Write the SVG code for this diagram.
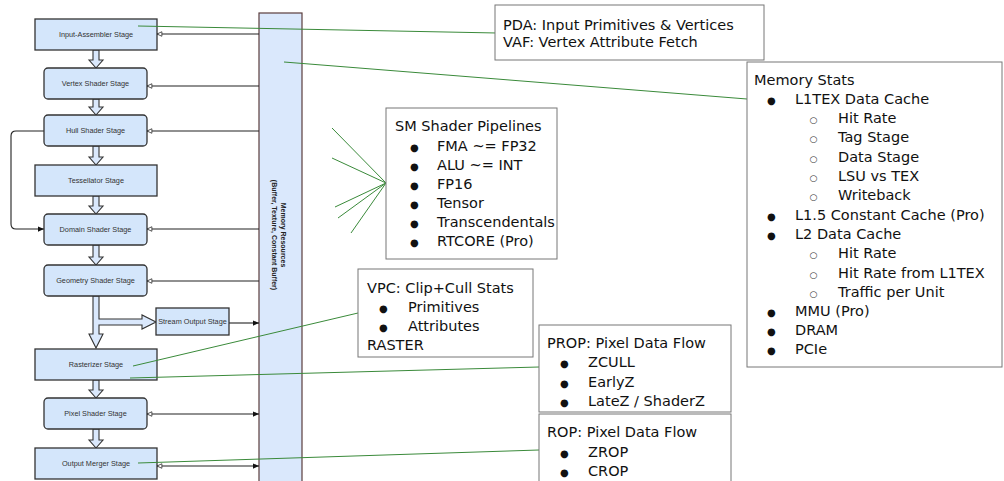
<svg xmlns="http://www.w3.org/2000/svg" width="1004" height="481" viewBox="0 0 1004 481">
  <style>
    .stage { fill: #d4e6fb; stroke: #333; stroke-width: 1.3; }
    .bar { fill: #dae8fc; stroke: #5a3d3d; stroke-width: 1.2; }
    .flow { fill: #dae8fc; stroke: #333; stroke-width: 1.1; stroke-linejoin: miter; }
    .lbl { font-family: "Liberation Sans", Arial, sans-serif; font-size: 7.3px; fill: #333; text-anchor: middle; }
    .memlbl { font-family: "Liberation Sans", Arial, sans-serif; font-size: 7px; font-weight: bold; fill: #222; text-anchor: middle; }
    .wire { fill: none; stroke: #222; stroke-width: 1.1; }
    .link { fill: none; stroke: #3a8a3a; stroke-width: 1; }
    .note { fill: #fff; stroke: #777; stroke-width: 1; }
    .txt { font-family: "DejaVu Sans", Verdana, sans-serif; font-size: 14.5px; fill: #111; }
    .dot { font-family: "DejaVu Sans", sans-serif; font-size: 10px; fill: #111; }
    .ring { font-family: "DejaVu Sans", sans-serif; font-size: 9px; fill: #333; }
  </style>
  <defs>
    <marker id="open" viewBox="0 0 8 8" refX="7.5" refY="4" markerWidth="7" markerHeight="6" markerUnits="userSpaceOnUse" orient="auto-start-reverse">
      <path d="M1,1 L7.5,4 L1,7 Z" fill="#fff" stroke="#222" stroke-width="1"/>
    </marker>
    <marker id="solid" viewBox="0 0 8 8" refX="8" refY="4" markerWidth="7" markerHeight="6" markerUnits="userSpaceOnUse" orient="auto">
      <path d="M0,0.5 L8,4 L0,7.5 Z" fill="#111"/>
    </marker>
  </defs>

  <rect width="1004" height="481" fill="#fff"/>

  <!-- shared memory resources column -->
  <g id="memory-resources">
    <rect class="bar" x="259" y="13" width="43" height="480"/>
    <text class="memlbl" transform="translate(281,235) rotate(90)">Memory Resources</text>
    <text class="memlbl" transform="translate(271.5,235) rotate(90)">(Buffer, Texture, Constant Buffer)</text>
  </g>

  <!-- connectors between stages and memory -->
  <g id="connectors">
    <path class="wire" d="M259,34 H157" marker-end="url(#open)"/>
    <path class="wire" d="M259,86 H147" marker-end="url(#open)"/>
    <path class="wire" d="M259,131 H147" marker-end="url(#open)"/>
    <path class="wire" d="M259,229 H147" marker-end="url(#open)"/>
    <path class="wire" d="M259,281 H147" marker-end="url(#open)"/>
    <path class="wire" d="M147,414 H259" marker-start="url(#open)" marker-end="url(#solid)"/>
    <path class="wire" d="M157,466 H259" marker-start="url(#open)" marker-end="url(#solid)"/>
    <path class="wire" d="M229,323 H259" marker-end="url(#solid)"/>
    <path class="wire" d="M44,131 H16 Q11,131 11,136 V224 Q11,229 16,229 H44" marker-end="url(#solid)"/>

    <!-- pipeline flow arrows -->
    <path class="flow" d="M93,50 H99 V60 H103 L96,68 L89,60 H93 Z"/>
    <path class="flow" d="M93,99 H99 V107 H103 L96,115 L89,107 H93 Z"/>
    <path class="flow" d="M93,146 H99 V157 H103 L96,165 L89,157 H93 Z"/>
    <path class="flow" d="M93,196 H99 V206 H103 L96,214 L89,206 H93 Z"/>
    <path class="flow" d="M93,245 H99 V257 H103 L96,265 L89,257 H93 Z"/>
    <path class="flow" d="M93,296 H99 V319 H142 V315 L156,322 L142,329 V325 H99 V334 H103 L96,348 L89,334 H93 Z"/>
    <path class="flow" d="M93,380 H99 V390 H103 L96,398 L89,390 H93 Z"/>
    <path class="flow" d="M93,429 H99 V440 H103 L96,448 L89,440 H93 Z"/>
  </g>

  <!-- pipeline stages -->
  <g id="input-assembler">
    <rect class="stage" x="35" y="19" width="122" height="31"/>
    <text class="lbl" x="96" y="37">Input-Assembler Stage</text>
  </g>
  <g id="vertex-shader">
    <rect class="stage" x="44" y="68" width="103" height="31" rx="4"/>
    <text class="lbl" x="95.5" y="86">Vertex Shader Stage</text>
  </g>
  <g id="hull-shader">
    <rect class="stage" x="44" y="115" width="103" height="31" rx="4"/>
    <text class="lbl" x="95.5" y="133">Hull Shader Stage</text>
  </g>
  <g id="tessellator">
    <rect class="stage" x="35" y="165" width="122" height="31"/>
    <text class="lbl" x="96" y="183">Tessellator Stage</text>
  </g>
  <g id="domain-shader">
    <rect class="stage" x="44" y="214" width="103" height="31" rx="4"/>
    <text class="lbl" x="95.5" y="232">Domain Shader Stage</text>
  </g>
  <g id="geometry-shader">
    <rect class="stage" x="44" y="265" width="103" height="31" rx="4"/>
    <text class="lbl" x="95.5" y="283">Geometry Shader Stage</text>
  </g>
  <g id="stream-output">
    <rect class="stage" x="156" y="308" width="73" height="27"/>
    <text class="lbl" x="192.5" y="324">Stream Output Stage</text>
  </g>
  <g id="rasterizer">
    <rect class="stage" x="35" y="349" width="122" height="31"/>
    <text class="lbl" x="96" y="367">Rasterizer Stage</text>
  </g>
  <g id="pixel-shader">
    <rect class="stage" x="44" y="398" width="103" height="31" rx="4"/>
    <text class="lbl" x="95.5" y="416">Pixel Shader Stage</text>
  </g>
  <g id="output-merger">
    <rect class="stage" x="35" y="448" width="122" height="31"/>
    <text class="lbl" x="96" y="466">Output Merger Stage</text>
  </g>

  <!-- callout leaders -->
  <g id="callout-links">
    <path class="link" d="M138,26 L497,33"/>
    <path class="link" d="M284,62 L747,99"/>
    <path class="link" d="M332,128 L386,183 M332,158 L386,183 M335,207 L386,183 M338,218 L386,183 M351,233 L386,183"/>
    <path class="link" d="M133,366 L358,313"/>
    <path class="link" d="M130,378 L539,367"/>
    <path class="link" d="M138,463 L539,450"/>
  </g>

  <!-- hardware unit callouts -->
  <g id="pda-vaf">
    <rect class="note" x="495" y="5" width="269" height="55"/>
    <text class="txt" x="503" y="29.5">PDA: Input Primitives &amp; Vertices</text>
    <text class="txt" x="503" y="46.5">VAF: Vertex Attribute Fetch</text>
  </g>

  <g id="memory-stats">
    <rect class="note" x="747" y="62" width="255" height="305"/>
    <text class="txt" x="754" y="85">Memory Stats</text>
    <text class="dot" x="767" y="104">●</text><text class="txt" x="795" y="104">L1TEX Data Cache</text>
    <text class="ring" x="809.5" y="123">○</text><text class="txt" x="838" y="123">Hit Rate</text>
    <text class="ring" x="809.5" y="142">○</text><text class="txt" x="838" y="142">Tag Stage</text>
    <text class="ring" x="809.5" y="162">○</text><text class="txt" x="838" y="162">Data Stage</text>
    <text class="ring" x="809.5" y="181">○</text><text class="txt" x="838" y="181">LSU vs TEX</text>
    <text class="ring" x="809.5" y="200">○</text><text class="txt" x="838" y="200">Writeback</text>
    <text class="dot" x="767" y="220">●</text><text class="txt" x="795" y="220">L1.5 Constant Cache (Pro)</text>
    <text class="dot" x="767" y="239">●</text><text class="txt" x="795" y="239">L2 Data Cache</text>
    <text class="ring" x="809.5" y="258">○</text><text class="txt" x="838" y="258">Hit Rate</text>
    <text class="ring" x="809.5" y="278">○</text><text class="txt" x="838" y="278">Hit Rate from L1TEX</text>
    <text class="ring" x="809.5" y="297">○</text><text class="txt" x="838" y="297">Traffic per Unit</text>
    <text class="dot" x="767" y="316">●</text><text class="txt" x="795" y="316">MMU (Pro)</text>
    <text class="dot" x="767" y="335">●</text><text class="txt" x="795" y="335">DRAM</text>
    <text class="dot" x="767" y="354">●</text><text class="txt" x="795" y="354">PCIe</text>
  </g>

  <g id="sm-pipelines">
    <rect class="note" x="386" y="108" width="171" height="151"/>
    <text class="txt" x="395" y="131">SM Shader Pipelines</text>
    <text class="dot" x="410" y="151">●</text><text class="txt" x="437" y="151">FMA ~= FP32</text>
    <text class="dot" x="410" y="170">●</text><text class="txt" x="437" y="170">ALU ~= INT</text>
    <text class="dot" x="410" y="189">●</text><text class="txt" x="437" y="189">FP16</text>
    <text class="dot" x="410" y="208">●</text><text class="txt" x="437" y="208">Tensor</text>
    <text class="dot" x="410" y="227">●</text><text class="txt" x="437" y="227">Transcendentals</text>
    <text class="dot" x="410" y="246">●</text><text class="txt" x="437" y="246">RTCORE (Pro)</text>
  </g>

  <g id="vpc-raster">
    <rect class="note" x="358" y="269" width="175" height="88"/>
    <text class="txt" x="367" y="293">VPC: Clip+Cull Stats</text>
    <text class="dot" x="379" y="312">●</text><text class="txt" x="408" y="312">Primitives</text>
    <text class="dot" x="379" y="331">●</text><text class="txt" x="408" y="331">Attributes</text>
    <text class="txt" x="367" y="350">RASTER</text>
  </g>

  <g id="prop">
    <rect class="note" x="539" y="325" width="192" height="87"/>
    <text class="txt" x="547" y="348">PROP: Pixel Data Flow</text>
    <text class="dot" x="560" y="367">●</text><text class="txt" x="588" y="367">ZCULL</text>
    <text class="dot" x="560" y="387">●</text><text class="txt" x="588" y="387">EarlyZ</text>
    <text class="dot" x="560" y="406">●</text><text class="txt" x="588" y="406">LateZ / ShaderZ</text>
  </g>

  <g id="rop">
    <rect class="note" x="539" y="414" width="192" height="80"/>
    <text class="txt" x="547" y="437">ROP: Pixel Data Flow</text>
    <text class="dot" x="560" y="457">●</text><text class="txt" x="588" y="457">ZROP</text>
    <text class="dot" x="560" y="476">●</text><text class="txt" x="588" y="476">CROP</text>
  </g>
</svg>
